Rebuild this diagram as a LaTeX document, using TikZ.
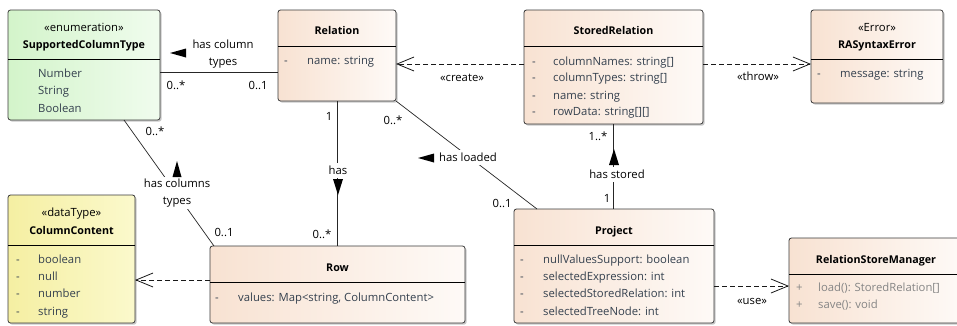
\documentclass[tikz,border=0pt]{standalone}
\usepackage{fontspec}
\setmainfont{Open Sans}
\usetikzlibrary{arrows.meta,shadows}

\definecolor{clsL}{HTML}{F8E2D2}
\definecolor{clsR}{HTML}{FEFAF7}
\definecolor{grnL}{HTML}{D3F4CA}
\definecolor{grnR}{HTML}{F0FCEE}
\definecolor{ylwL}{HTML}{F5EFA2}
\definecolor{ylwR}{HTML}{FBF9CC}
\definecolor{attrc}{HTML}{34404E}
\definecolor{opc}{HTML}{858585}
\definecolor{edge}{HTML}{3A3A3A}

\begin{document}
\begin{tikzpicture}[x=1pt,y=-1pt,
  font=\fontsize{11.3}{13}\selectfont,
  box/.style={draw=edge, line width=0.8pt, rounded corners=2.5pt,
    anchor=north west, inner sep=0pt, outer sep=0pt, shading=axis,
    left color=clsL, right color=clsR,
    drop shadow={shadow xshift=1.6pt, shadow yshift=-1.6pt, fill=black, opacity=0.22}},
  greenbox/.style={box, left color=grnL, right color=grnR},
  yellowbox/.style={box, left color=ylwL, right color=ylwR},
  sepline/.style={draw=black, line width=0.8pt},
  txt/.style={inner sep=0pt, text height=10pt, text depth=2pt},
  title/.style={txt, font=\fontsize{10.7}{12}\selectfont\bfseries},
  stereo/.style={txt},
  attr/.style={txt, anchor=west, text=attrc},
  oper/.style={txt, anchor=west, text=opc},
  lbl/.style={txt, text=black},
  onlink/.style={fill=white, inner sep=1.5pt, text height=10pt, text depth=2pt, text=black},
  twoline/.style={align=center, text height=, text depth=, font=\fontsize{11.3}{17}\selectfont},
  assoc/.style={draw=black!85, line width=0.7pt},
  depend/.style={draw=black!90, line width=0.8pt, dash pattern=on 5pt off 3pt,
    -{Straight Barb[length=17pt, width=14pt, line width=0.8pt]}},
  navtip/.style={fill=black}
]
\clip (0,0) rectangle (957,325);
\fill[white] (0,0) rectangle (957,325);

% ---------- classes ----------
\node[greenbox, minimum width=152pt, minimum height=110pt] (sct) at (8,10) {};
\draw[sepline] (sct.west |- 0,59) -- (sct.east |- 0,59);
\node[stereo] at (sct.north |- 0,27) {«enumeration»};
\node[title] at (sct.north |- 0,44) {SupportedColumnType};
\node[attr] at (38,73) {Number};
\node[attr] at (38,90) {String};
\node[attr] at (38,108) {Boolean};

\node[box, minimum width=118pt, minimum height=91pt] (rel) at (278,10) {};
\draw[sepline] (rel.west |- 0,46) -- (rel.east |- 0,46);
\node[title] at (rel.north |- 0,30) {Relation};
\node[attr] at (284,60) {-};
\node[attr] at (307,60) {name: string};

\node[box, minimum width=179pt, minimum height=114pt] (sr) at (524,10) {};
\draw[sepline] (sr.west |- 0,46) -- (sr.east |- 0,46);
\node[title] at (sr.north |- 0,30) {StoredRelation};
\node[attr] at (532,61) {-};
\node[attr] at (553,61) {columnNames: string[]};
\node[attr] at (532,77) {-};
\node[attr] at (553,77) {columnTypes: string[]};
\node[attr] at (532,95) {-};
\node[attr] at (553,95) {name: string};
\node[attr] at (532,111) {-};
\node[attr] at (553,111) {rowData: string[][]};

\node[box, minimum width=132pt, minimum height=93pt] (rse) at (811,10) {};
\draw[sepline] (rse.west |- 0,59) -- (rse.east |- 0,59);
\node[stereo] at (rse.north |- 0,27) {«Error»};
\node[title] at (rse.north |- 0,44) {RASyntaxError};
\node[attr] at (817,73) {-};
\node[attr] at (840,73) {message: string};

\node[yellowbox, minimum width=127pt, minimum height=128pt] (cc) at (8,195) {};
\draw[sepline] (cc.west |- 0,245) -- (cc.east |- 0,245);
\node[stereo] at (cc.north |- 0,212) {«dataType»};
\node[title] at (cc.north |- 0,230) {ColumnContent};
\node[attr] at (16,259) {-};
\node[attr] at (38,259) {boolean};
\node[attr] at (16,276) {-};
\node[attr] at (38,276) {null};
\node[attr] at (16,293) {-};
\node[attr] at (38,293) {number};
\node[attr] at (16,311) {-};
\node[attr] at (38,311) {string};

\node[box, minimum width=255pt, minimum height=77pt] (row) at (210,246) {};
\draw[sepline] (row.west |- 0,282) -- (row.east |- 0,282);
\node[title] at (row.north |- 0,267) {Row};
\node[attr] at (215,297) {-};
\node[attr] at (238,297) {values: Map<string, ColumnContent>};

\node[box, minimum width=200pt, minimum height=114pt] (proj) at (514,209) {};
\draw[sepline] (proj.west |- 0,245) -- (proj.east |- 0,245);
\node[title] at (proj.north |- 0,230) {Project};
\node[attr] at (520,259) {-};
\node[attr] at (543,259) {nullValuesSupport: boolean};
\node[attr] at (520,276) {-};
\node[attr] at (543,276) {selectedExpression: int};
\node[attr] at (520,293) {-};
\node[attr] at (543,293) {selectedStoredRelation: int};
\node[attr] at (520,311) {-};
\node[attr] at (543,311) {selectedTreeNode: int};

\node[box, minimum width=175pt, minimum height=85pt] (rsm) at (789,238) {};
\draw[sepline] (rsm.west |- 0,274) -- (rsm.east |- 0,274);
\node[title] at (876,259) {RelationStoreManager};
\node[oper] at (796,287) {+};
\node[oper] at (818,287) {load(): StoredRelation[]};
\node[oper] at (796,304) {+};
\node[oper] at (818,304) {save(): void};

% ---------- associations ----------
\draw[assoc] (sct.east |- 0,72) -- (rel.west |- 0,72);
\node[lbl, twoline] at (223,54) {has column\\types};
\fill[navtip] (170,53) -- (186,48.5) -- (186,57.5) -- cycle;
\node[lbl] at (176,85) {0..*};
\node[lbl] at (258,85) {0..1};

\draw[assoc] (rel.south) -- (rel.south |- row.north);
\node[onlink] at (338,170) {has};
\fill[navtip] (338,195) -- (333,179) -- (343,179) -- cycle;
\node[lbl] at (329,116) {1};
\node[lbl] at (322,234) {0..*};

\draw[assoc] (rel.south east) -- (proj.north -| 537,0);
\node[onlink] at (468,157) {has loaded};
\fill[navtip] (418,158) -- (434,153.5) -- (434,162.5) -- cycle;
\node[lbl] at (393,120) {0..*};
\node[lbl] at (502,203) {0..1};

\draw[assoc] (sr.south) -- (sr.south |- proj.north);
\node[onlink] at (617,174) {has stored};
\fill[navtip] (614,149) -- (609,165) -- (619,165) -- cycle;
\node[lbl] at (598,136) {1..*};
\node[lbl] at (607,198) {1};

\draw[assoc] (sct.south -| 124,0) -- (row.north -| 214,0);
\node[onlink, twoline] at (177,193) {has columns\\types};
\fill[navtip] (177,161) -- (172.5,177) -- (181.5,177) -- cycle;
\node[lbl] at (155,131) {0..*};
\node[lbl] at (224,232) {0..1};

% ---------- dependencies ----------
\draw[depend] (sr.west |- 0,64) -- (rel.east |- 0,64);
\node[lbl] at (462,77) {«create»};
\draw[depend] (sr.east |- 0,64) -- (rse.west |- 0,64);
\node[lbl] at (758,76) {«throw»};
\draw[depend] (row.west |- 0,280) -- (cc.east |- 0,280);
\draw[depend] (proj.east |- 0,286) -- (rsm.west |- 0,286);
\node[lbl] at (752,300) {«use»};
\end{tikzpicture}
\end{document}
